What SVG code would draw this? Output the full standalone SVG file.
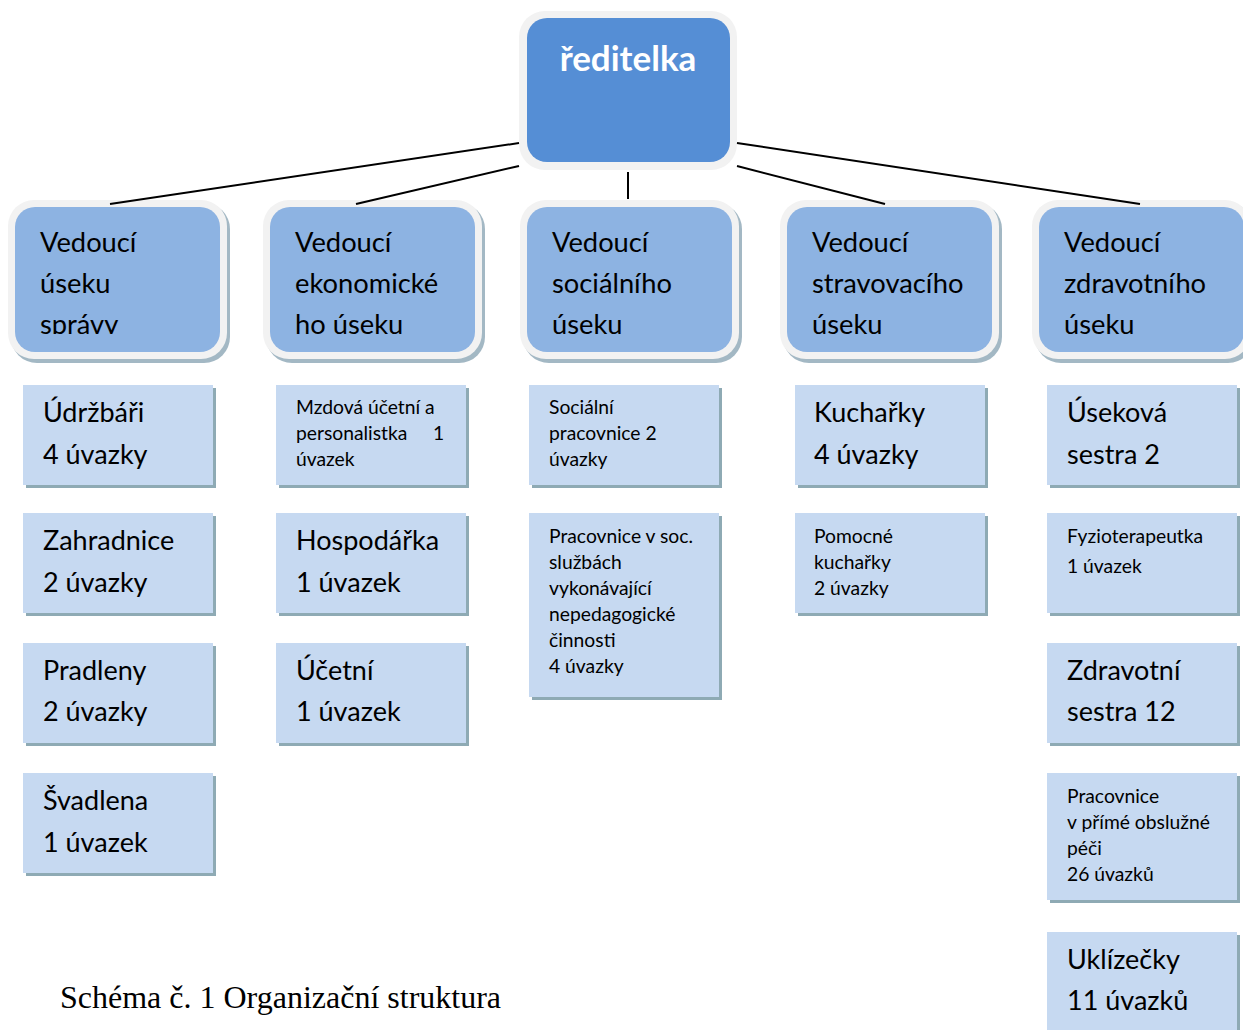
<svg xmlns="http://www.w3.org/2000/svg" width="1243" height="1030" viewBox="0 0 1243 1030">
<style>
.frame{fill:#f2f2f2}
.sh2{fill:#a3b8c4}
.mid{fill:#8db3e2}
.top{fill:#558ed5}
.box{fill:#c6d9f1}
.bsh{fill:#8eaab4}
.t{font-family:Lato,"Noto Sans",sans-serif;fill:#000}
.L{font-size:27px}
.S{font-size:19.3px}
.M{font-size:27.3px}
.conn line{stroke:#000;stroke-width:2}
</style>
<defs>
<clipPath id="c1"><rect x="15" y="207" width="205" height="127"/></clipPath>
</defs>
<rect width="1243" height="1030" fill="#fff"/>
<g id="reditelka">
<rect class="frame" x="519" y="11" width="218" height="159" rx="26"/>
<rect class="top" x="527" y="18" width="203" height="144" rx="20"/>
<text x="628" y="71" text-anchor="middle" class="t" style="font-size:35px;font-weight:bold;fill:#fff">ředitelka</text>
</g>
<g id="v1">
<rect class="sh2" x="11" y="203" width="219" height="160" rx="26"/>
<rect class="frame" x="8" y="200" width="219" height="159" rx="26"/>
<rect class="mid" x="15" y="207" width="205" height="145" rx="20"/>
<g clip-path="url(#c1)"><text class="t M" x="40" y="252">Vedoucí</text><text class="t M" x="40" y="293">úseku</text><text class="t M" x="40" y="334">správy</text></g>
</g>
<g id="v2">
<rect class="sh2" x="266" y="203" width="219" height="160" rx="26"/>
<rect class="frame" x="263" y="200" width="219" height="159" rx="26"/>
<rect class="mid" x="270" y="207" width="205" height="145" rx="20"/>
<text class="t M" x="295" y="252">Vedoucí</text><text class="t M" x="295" y="293">ekonomické</text><text class="t M" x="295" y="334">ho úseku</text>
</g>
<g id="v3">
<rect class="sh2" x="523" y="203" width="219" height="160" rx="26"/>
<rect class="frame" x="520" y="200" width="219" height="159" rx="26"/>
<rect class="mid" x="527" y="207" width="205" height="145" rx="20"/>
<text class="t M" x="552" y="252">Vedoucí</text><text class="t M" x="552" y="293">sociálního</text><text class="t M" x="552" y="334">úseku</text>
</g>
<g id="v4">
<rect class="sh2" x="783" y="203" width="219" height="160" rx="26"/>
<rect class="frame" x="780" y="200" width="219" height="159" rx="26"/>
<rect class="mid" x="787" y="207" width="205" height="145" rx="20"/>
<text class="t M" x="812" y="252">Vedoucí</text><text class="t M" x="812" y="293">stravovacího</text><text class="t M" x="812" y="334">úseku</text>
</g>
<g id="v5">
<rect class="sh2" x="1035" y="203" width="219" height="160" rx="26"/>
<rect class="frame" x="1032" y="200" width="219" height="159" rx="26"/>
<rect class="mid" x="1039" y="207" width="205" height="145" rx="20"/>
<text class="t M" x="1064" y="252">Vedoucí</text><text class="t M" x="1064" y="293">zdravotního</text><text class="t M" x="1064" y="334">úseku</text>
</g>
<g class="conn">
<line x1="519" y1="143" x2="110" y2="204"/>
<line x1="519" y1="166" x2="356" y2="204"/>
<line x1="628" y1="172" x2="628" y2="199"/>
<line x1="737" y1="166" x2="885" y2="204"/>
<line x1="737" y1="143" x2="1140" y2="204"/>
</g>
<!-- column 1 -->
<g id="udrzbari"><rect class="bsh" x="26" y="388" width="190" height="100"/><rect class="box" x="23" y="385" width="190" height="100"/>
<text class="t L" x="43" y="422">Údržbáři</text><text class="t L" x="43" y="464">4 úvazky</text></g>
<g id="zahradnice"><rect class="bsh" x="26" y="516" width="190" height="100"/><rect class="box" x="23" y="513" width="190" height="100"/>
<text class="t L" x="43" y="550">Zahradnice</text><text class="t L" x="43" y="592">2 úvazky</text></g>
<g id="pradleny"><rect class="bsh" x="26" y="646" width="190" height="100"/><rect class="box" x="23" y="643" width="190" height="100"/>
<text class="t L" x="43" y="680">Pradleny</text><text class="t L" x="43" y="721">2 úvazky</text></g>
<g id="svadlena"><rect class="bsh" x="26" y="776" width="190" height="100"/><rect class="box" x="23" y="773" width="190" height="100"/>
<text class="t L" x="43" y="810">Švadlena</text><text class="t L" x="43" y="852">1 úvazek</text></g>
<!-- column 2 -->
<g id="mzdova"><rect class="bsh" x="279" y="388" width="190" height="100"/><rect class="box" x="276" y="385" width="190" height="100"/>
<text class="t S" x="296" y="414">Mzdová účetní a</text><text class="t S" x="296" y="440">personalistka<tspan x="433">1</tspan></text><text class="t S" x="296" y="466">úvazek</text></g>
<g id="hospodarka"><rect class="bsh" x="279" y="516" width="190" height="100"/><rect class="box" x="276" y="513" width="190" height="100"/>
<text class="t L" x="296" y="550">Hospodářka</text><text class="t L" x="296" y="592">1 úvazek</text></g>
<g id="ucetni"><rect class="bsh" x="279" y="646" width="190" height="100"/><rect class="box" x="276" y="643" width="190" height="100"/>
<text class="t L" x="296" y="680">Účetní</text><text class="t L" x="296" y="721">1 úvazek</text></g>
<!-- column 3 -->
<g id="socialni"><rect class="bsh" x="532" y="388" width="190" height="100"/><rect class="box" x="529" y="385" width="190" height="100"/>
<text class="t S" x="549" y="414">Sociální</text><text class="t S" x="549" y="440">pracovnice 2</text><text class="t S" x="549" y="466">úvazky</text></g>
<g id="pracovnice-soc"><rect class="bsh" x="532" y="516" width="190" height="184"/><rect class="box" x="529" y="513" width="190" height="184"/>
<text class="t S" x="549" y="543">Pracovnice v soc.</text><text class="t S" x="549" y="569">službách</text><text class="t S" x="549" y="595">vykonávající</text><text class="t S" x="549" y="621">nepedagogické</text><text class="t S" x="549" y="647">činnosti</text><text class="t S" x="549" y="673">4 úvazky</text></g>
<!-- column 4 -->
<g id="kucharky"><rect class="bsh" x="798" y="388" width="190" height="100"/><rect class="box" x="795" y="385" width="190" height="100"/>
<text class="t L" x="814" y="422">Kuchařky</text><text class="t L" x="814" y="464">4 úvazky</text></g>
<g id="pomocne"><rect class="bsh" x="798" y="516" width="190" height="100"/><rect class="box" x="795" y="513" width="190" height="100"/>
<text class="t S" x="814" y="543">Pomocné</text><text class="t S" x="814" y="569">kuchařky</text><text class="t S" x="814" y="595">2 úvazky</text></g>
<!-- column 5 -->
<g id="usekova"><rect class="bsh" x="1050" y="388" width="190" height="100"/><rect class="box" x="1047" y="385" width="190" height="100"/>
<text class="t L" x="1067" y="422">Úseková</text><text class="t L" x="1067" y="464">sestra 2</text></g>
<g id="fyzio"><rect class="bsh" x="1050" y="516" width="190" height="100"/><rect class="box" x="1047" y="513" width="190" height="100"/>
<text class="t S" x="1067" y="543">Fyzioterapeutka</text><text class="t S" x="1067" y="573">1 úvazek</text></g>
<g id="zdravotni"><rect class="bsh" x="1050" y="646" width="190" height="100"/><rect class="box" x="1047" y="643" width="190" height="100"/>
<text class="t L" x="1067" y="680">Zdravotní</text><text class="t L" x="1067" y="721">sestra 12</text></g>
<g id="prime"><rect class="bsh" x="1050" y="776" width="190" height="127"/><rect class="box" x="1047" y="773" width="190" height="127"/>
<text class="t S" x="1067" y="803">Pracovnice</text><text class="t S" x="1067" y="829">v přímé obslužné</text><text class="t S" x="1067" y="855">péči</text><text class="t S" x="1067" y="881">26 úvazků</text></g>
<g id="uklizecky"><rect class="bsh" x="1050" y="935" width="190" height="100"/><rect class="box" x="1047" y="932" width="190" height="100"/>
<text class="t L" x="1067" y="969">Uklízečky</text><text class="t L" x="1067" y="1010">11 úvazků</text></g>
<text x="60" y="1008" style="font-family:'Liberation Serif',serif;font-size:32px;fill:#000">Schéma č. 1 Organizační struktura</text>
</svg>
